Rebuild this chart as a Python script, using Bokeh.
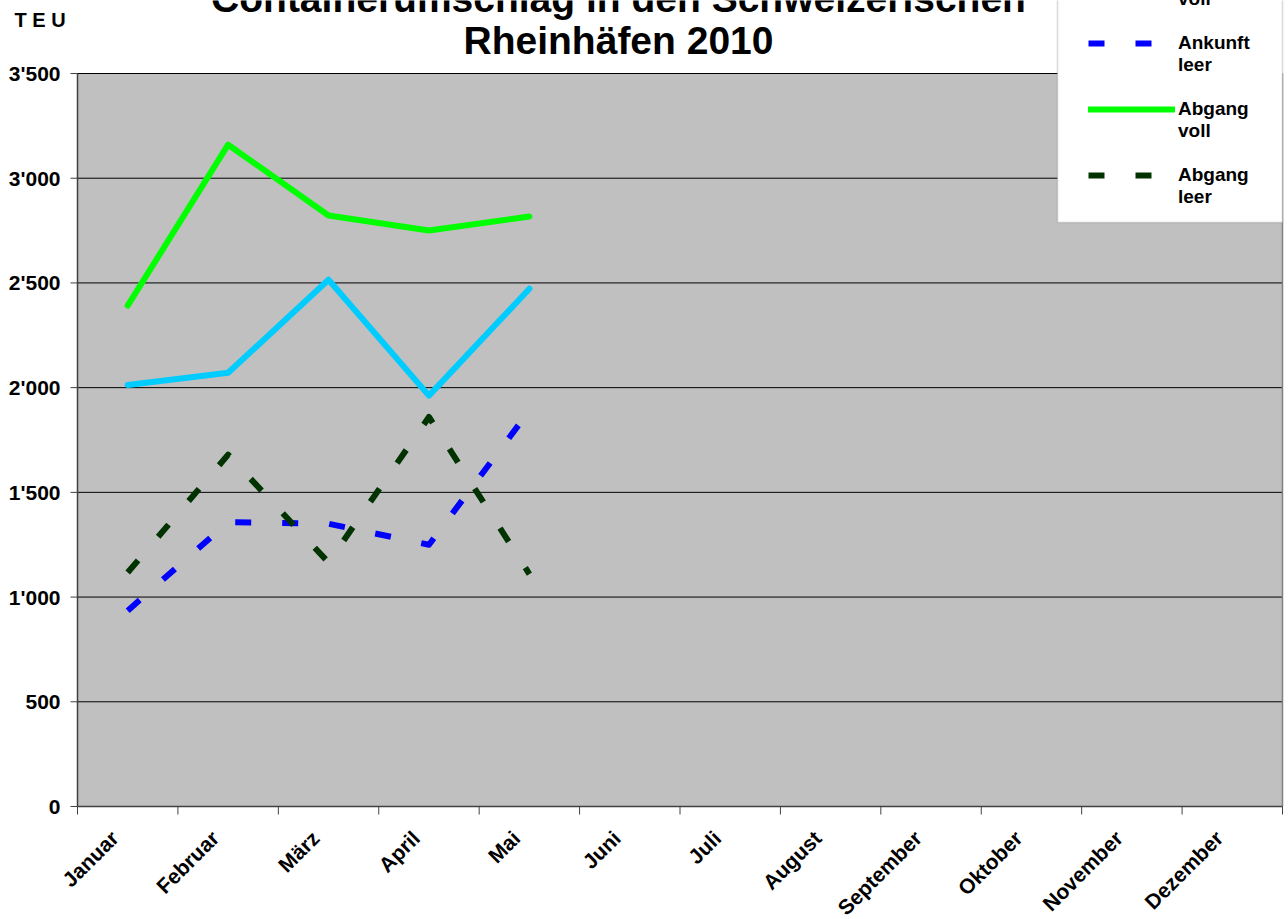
import math
from bokeh.plotting import figure
from bokeh.models import Range1d, Legend, LegendItem, Label, BoxAnnotation
from bokeh.core.properties import value
from bokeh.embed import file_html
from bokeh.resources import INLINE

# ---------------- data ----------------
months = ["Januar", "Februar", "März", "April", "Mai", "Juni", "Juli",
          "August", "September", "Oktober", "November", "Dezember"]
ankunft_voll = [2013, 2071, 2515, 1962, 2472]
ankunft_leer = [935, 1358, 1350, 1250, 1890]
abgang_voll = [2392, 3160, 2822, 2750, 2817]
abgang_leer = [1117, 1680, 1165, 1860, 1110]

y_ticks = [0, 500, 1000, 1500, 2000, 2500, 3000, 3500]
y_tick_labels = ["0", "500", "1'000", "1'500", "2'000", "2'500", "3'000", "3'500"]

title_lines = ["Containerumschlag in den Schweizerischen", "Rheinhäfen 2010"]
unit_label = "T E U"
series_names = ["Ankunft\nvoll", "Ankunft\nleer", "Abgang\nvoll", "Abgang\nleer"]

# ---------------- layout (pixels) ----------------
FONT = "Liberation Sans"
W, H = 1288, 919
FL, FR, FT, FB = 77, 1282, 73, 806      # plot-area edges on the canvas
n = len(months)
ymax = y_ticks[-1]
sx = (FR - FL) / n                       # px per month
sy = (FB - FT) / ymax                    # px per TEU

p = figure(width=W, height=H, output_backend="svg", toolbar_location=None,
           x_axis_location=None, y_axis_location=None,
           x_range=Range1d(-FL / sx, n + (W - FR) / sx),
           y_range=Range1d(-(H - FB) / sy, ymax + FT / sy),
           min_border=0)
p.outline_line_color = None
p.background_fill_color = "white"
p.border_fill_color = "white"
p.grid.visible = False

# plot area
p.quad(left=[0], right=[n], bottom=[0], top=[ymax],
       fill_color="#C0C0C0", line_color=None)
# horizontal grid lines
p.segment(x0=[0] * (len(y_ticks) - 1), x1=[n] * (len(y_ticks) - 1),
          y0=y_ticks[1:], y1=y_ticks[1:], line_color="black", line_width=1)
# right border
p.segment(x0=[n], x1=[n], y0=[0], y1=[ymax], line_color="#808080", line_width=1.5)
# axis lines
p.segment(x0=[0, 0], x1=[0, n], y0=[0, 0], y1=[ymax, 0], line_color="#404040", line_width=1.5)
# y ticks + labels
p.segment(x0=[0] * len(y_ticks), x1=[-7 / sx] * len(y_ticks), y0=y_ticks, y1=y_ticks,
          line_color="#404040", line_width=1)
p.text(x=[0] * len(y_ticks), y=y_ticks, text=y_tick_labels, x_offset=-17,
       text_align="right", text_baseline="middle", text_color="black",
       text_font=value(FONT), text_font_style="bold", text_font_size="21px")
# x ticks at month boundaries + rotated month labels at centres
bounds = list(range(n + 1))
p.segment(x0=bounds, x1=bounds, y0=[0] * len(bounds), y1=[-8 / sy] * len(bounds),
          line_color="#404040", line_width=1)
p.text(x=[i + 0.5 for i in range(n)], y=[0] * n, text=months, angle=math.pi / 4,
       x_offset=-13, y_offset=28, text_align="right", text_baseline="middle",
       text_color="black", text_font=value(FONT), text_font_style="bold",
       text_font_size="21px")

# series
def xs_for(vals):
    return [i + 0.5 for i in range(len(vals))]

r1 = p.line(xs_for(ankunft_voll), ankunft_voll, line_color="#00CCFF", line_width=6,
            line_cap="round", line_join="round")
r2 = p.line(xs_for(ankunft_leer), ankunft_leer, line_color="#0000FF", line_width=6,
            line_dash="16 31", line_join="round")
r3 = p.line(xs_for(abgang_voll), abgang_voll, line_color="#00FF00", line_width=6,
            line_cap="round", line_join="round")
r4 = p.line(xs_for(abgang_leer), abgang_leer, line_color="#003300", line_width=6,
            line_dash="16 31", line_join="round")

# legend box (runs off the top of the picture)
p.add_layout(BoxAnnotation(left=1057, right=FR, bottom=H - 222, top=H + 30,
                           left_units="screen", right_units="screen",
                           bottom_units="screen", top_units="screen",
                           fill_color="white", fill_alpha=1,
                           line_color="#808080", line_width=1.5))

legend = Legend(items=[LegendItem(label=value("\n" + nm), renderers=[r])
                       for nm, r in zip(series_names, [r1, r2, r3, r4])],
                location=(1088, H - 208))
legend.glyph_width = 87
legend.glyph_height = 20
legend.label_standoff = 3
legend.padding = 10
legend.margin = 0
legend.spacing = 0
legend.label_text_font = FONT
legend.label_text_font_style = "bold"
legend.label_text_font_size = "19px"
legend.label_text_color = "black"
legend.border_line_color = None
legend.background_fill_alpha = 0
p.add_layout(legend)

# title lines & unit label
p.add_layout(Label(x=618, y=H + 2, x_units="screen", y_units="screen",
                   text=title_lines[0], text_align="center", text_baseline="alphabetic",
                   text_color="black", text_font=FONT, text_font_style="bold",
                   text_font_size="39px"))
p.add_layout(Label(x=618, y=H - 40, x_units="screen", y_units="screen",
                   text=title_lines[1], text_align="center", text_baseline="alphabetic",
                   text_color="black", text_font=FONT, text_font_style="bold",
                   text_font_size="39px"))
p.add_layout(Label(x=14, y=H - 19, x_units="screen", y_units="screen",
                   text=unit_label, text_align="left", text_baseline="alphabetic",
                   text_color="black", text_font=FONT, text_font_style="bold",
                   text_font_size="20px"))

open("out.html", "w").write(file_html(p, INLINE))
